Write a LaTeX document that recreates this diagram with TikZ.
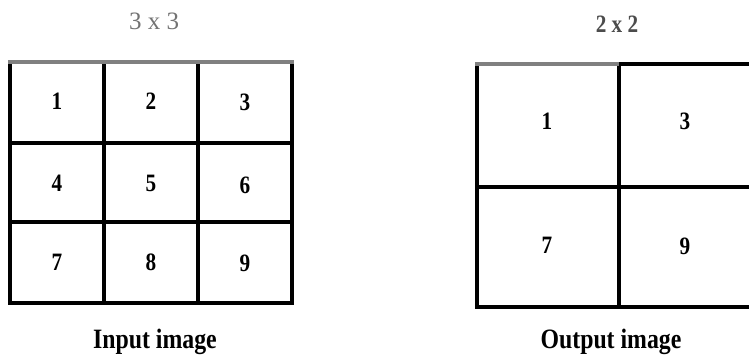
\documentclass[tikz,border=0pt]{standalone}
\usepackage{fontspec}
\setmainfont{Liberation Serif}
\newfontfamily\condbf[FakeStretch=0.85]{Liberation Serif Bold}
\begin{document}
\begin{tikzpicture}[x=1pt,y=-1pt,
  gridline/.style={line width=3.5pt,black},
  topline/.style={line width=3.5pt,color=black!50},
  digit/.style={font=\fontsize{25}{25}\condbf},
  title/.style={font=\fontsize{25}{25}\selectfont},
  caption/.style={font=\fontsize{28}{28}\condbf}]
\useasboundingbox (0,0) rectangle (749,360);
\clip (0,0) rectangle (749,360);
% left grid
\draw[gridline] (10,62) -- (10,303) -- (292,303) -- (292,62);
\draw[gridline] (104,62) -- (104,303);
\draw[gridline] (198,62) -- (198,303);
\draw[gridline] (10,143) -- (292,143);
\draw[gridline] (10,222) -- (292,222);
\draw[topline] (8.25,62) -- (293.75,62);
% right grid
\draw[gridline] (477,64) -- (477,307) -- (760,307);
\draw[gridline] (619,64) -- (760,64);
\draw[gridline] (619,64) -- (619,307);
\draw[gridline] (477,187) -- (760,187);
\draw[topline] (475.25,64) -- (619,64);
% digits
\node[digit] (c1) at (57,101) {1};
\node[digit] (c2) at (151,101) {2};
\node[digit] (c3) at (245,102) {3};
\node[digit] (c4) at (57,183) {4};
\node[digit] (c5) at (151,183) {5};
\node[digit] (c6) at (245,185) {6};
\node[digit] (c7) at (57,262) {7};
\node[digit] (c8) at (151,262) {8};
\node[digit] (c9) at (245,263) {9};
\node[digit] (o1) at (547,121) {1};
\node[digit] (o3) at (685,121) {3};
\node[digit] (o7) at (547,245) {7};
\node[digit] (o9) at (685,246) {9};
% titles
\node[title,text=black!55] (t1) at (154,21) {3 x 3};
\node[font=\fontsize{25}{25}\condbf,text=black!70] (t2) at (617,24) {2 x 2};
\node[caption] (cap1) at (155,342) {Input image};
\node[caption] (cap2) at (611,342) {Output image};
\end{tikzpicture}
\end{document}
